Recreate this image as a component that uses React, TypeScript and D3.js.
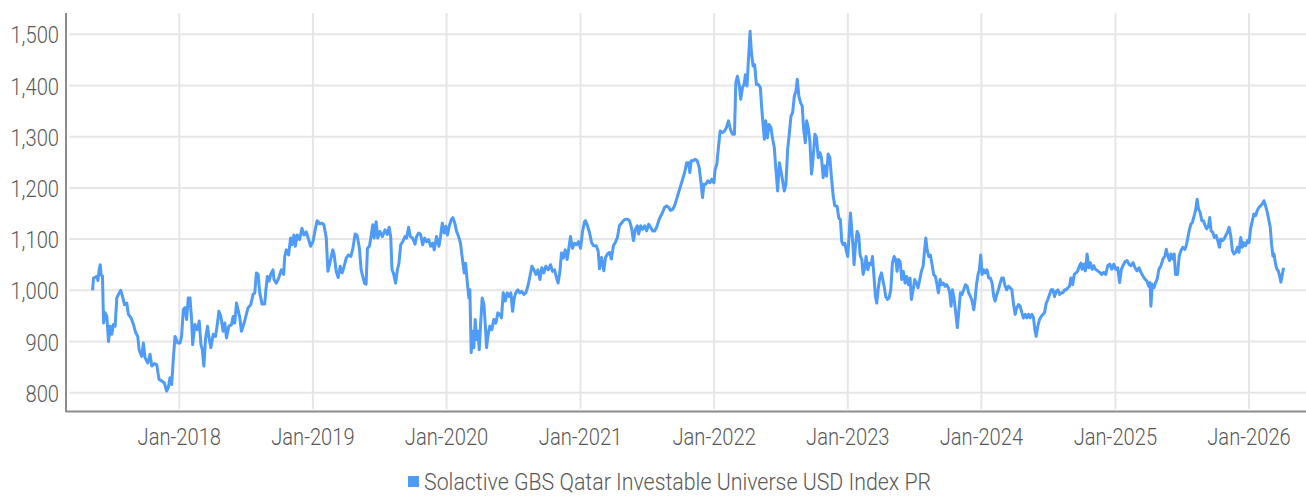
import React, {useEffect, useRef} from 'react';
import * as d3 from "d3";

const seriesName = "Solactive GBS Qatar Investable Universe USD Index PR";
const yTicks = [800, 900, 1000, 1100, 1200, 1300, 1400, 1500];
const xTickYears = [2018, 2019, 2020, 2021, 2022, 2023, 2024, 2025, 2026];

// dates as decimal years
const years = [
    2017.351, 2017.358, 2017.383, 2017.391, 2017.400, 2017.408, 2017.415, 2017.425, 2017.433, 2017.445,
    2017.458, 2017.470, 2017.483, 2017.495, 2017.507, 2017.520, 2017.532, 2017.545, 2017.562, 2017.575,
    2017.590, 2017.607, 2017.619, 2017.639, 2017.657, 2017.674, 2017.689, 2017.699, 2017.719, 2017.731,
    2017.744, 2017.764, 2017.781, 2017.794, 2017.813, 2017.831, 2017.848, 2017.868, 2017.888, 2017.905,
    2017.918, 2017.930, 2017.943, 2017.955, 2017.968, 2017.988, 2018.005, 2018.017, 2018.030, 2018.042,
    2018.055, 2018.067, 2018.080, 2018.092, 2018.100, 2018.117, 2018.134, 2018.149, 2018.162, 2018.172,
    2018.184, 2018.197, 2018.211, 2018.221, 2018.236, 2018.254, 2018.271, 2018.286, 2018.296, 2018.311,
    2018.328, 2018.341, 2018.353, 2018.371, 2018.391, 2018.403, 2018.415, 2018.428, 2018.440, 2018.453,
    2018.465, 2018.485, 2018.498, 2018.515, 2018.535, 2018.552, 2018.565, 2018.577, 2018.590, 2018.602,
    2018.619, 2018.639, 2018.647, 2018.659, 2018.672, 2018.684, 2018.701, 2018.709, 2018.726, 2018.744,
    2018.764, 2018.781, 2018.789, 2018.801, 2018.818, 2018.833, 2018.843, 2018.858, 2018.868, 2018.883,
    2018.900, 2018.918, 2018.933, 2018.950, 2018.968, 2018.983, 2019.000, 2019.017, 2019.032, 2019.050,
    2019.067, 2019.082, 2019.100, 2019.112, 2019.132, 2019.149,
    2019.159, 2019.174, 2019.189, 2019.204, 2019.219, 2019.234, 2019.249, 2019.266, 2019.284, 2019.299,
    2019.316, 2019.331, 2019.348, 2019.361, 2019.373, 2019.386, 2019.398, 2019.408, 2019.423, 2019.435,
    2019.448, 2019.458, 2019.473, 2019.485, 2019.502, 2019.520, 2019.540, 2019.557, 2019.570, 2019.582,
    2019.592, 2019.602, 2019.619, 2019.632, 2019.644, 2019.657, 2019.672, 2019.689, 2019.701, 2019.716,
    2019.729, 2019.746, 2019.764, 2019.776, 2019.791, 2019.806, 2019.821, 2019.836, 2019.851, 2019.866,
    2019.881, 2019.896, 2019.908, 2019.925, 2019.943, 2019.955, 2019.968, 2019.983, 2019.995, 2020.007,
    2020.020, 2020.035, 2020.047, 2020.062, 2020.075, 2020.090, 2020.104, 2020.119, 2020.132, 2020.142,
    2020.154, 2020.167, 2020.174, 2020.184, 2020.194, 2020.204, 2020.214, 2020.224, 2020.234, 2020.244,
    2020.254, 2020.266, 2020.279, 2020.289, 2020.299, 2020.308, 2020.323, 2020.338, 2020.353, 2020.368,
    2020.383, 2020.398, 2020.410, 2020.423, 2020.438, 2020.453, 2020.468, 2020.480, 2020.493, 2020.505,
    2020.517, 2020.532, 2020.547, 2020.562, 2020.577, 2020.592, 2020.607, 2020.622, 2020.637, 2020.652,
    2020.667, 2020.682, 2020.697, 2020.711, 2020.726, 2020.741, 2020.759, 2020.776, 2020.791, 2020.806,
    2020.821, 2020.833, 2020.846, 2020.858, 2020.871, 2020.886, 2020.900, 2020.915, 2020.925, 2020.940,
    2020.955, 2020.970, 2020.985, 2021.000, 2021.015, 2021.030,
    2021.037, 2021.052, 2021.067, 2021.082, 2021.097, 2021.117, 2021.132, 2021.142, 2021.157, 2021.174,
    2021.187, 2021.202, 2021.217, 2021.231, 2021.246, 2021.261, 2021.276, 2021.291, 2021.306, 2021.321,
    2021.336, 2021.351, 2021.366, 2021.381, 2021.396, 2021.410, 2021.425, 2021.435, 2021.450, 2021.465,
    2021.480, 2021.495, 2021.510, 2021.525, 2021.540, 2021.555, 2021.570, 2021.585, 2021.600, 2021.614,
    2021.629, 2021.644, 2021.659, 2021.674, 2021.689, 2021.704, 2021.719, 2021.734, 2021.749, 2021.764,
    2021.779, 2021.794, 2021.808, 2021.818, 2021.828, 2021.843, 2021.858, 2021.873, 2021.888, 2021.900,
    2021.913, 2021.923, 2021.938, 2021.953, 2021.968, 2021.983, 2021.998, 2022.007, 2022.020, 2022.032,
    2022.045, 2022.062, 2022.077, 2022.092, 2022.107, 2022.122, 2022.137, 2022.152, 2022.162, 2022.174,
    2022.187, 2022.199, 2022.212, 2022.224, 2022.234, 2022.246, 2022.256, 2022.269, 2022.279, 2022.291,
    2022.303, 2022.316, 2022.331, 2022.346, 2022.356, 2022.366, 2022.376, 2022.386, 2022.398, 2022.411,
    2022.425, 2022.438, 2022.450, 2022.463, 2022.475, 2022.488, 2022.500, 2022.512, 2022.525, 2022.537,
    2022.550, 2022.562, 2022.575, 2022.587, 2022.600, 2022.612, 2022.622, 2022.634, 2022.647, 2022.659,
    2022.669, 2022.682, 2022.692, 2022.704, 2022.716, 2022.729, 2022.741, 2022.754, 2022.766, 2022.779,
    2022.791, 2022.803, 2022.816, 2022.828, 2022.841, 2022.853, 2022.866, 2022.878, 2022.891, 2022.903,
    2022.920, 2022.933, 2022.945, 2022.955, 2022.965, 2022.978, 2022.990, 2023.000, 2023.010, 2023.020,
    2023.030, 2023.040, 2023.047, 2023.057, 2023.070, 2023.082, 2023.092, 2023.105, 2023.115, 2023.127,
    2023.137, 2023.150, 2023.162, 2023.175, 2023.185, 2023.197, 2023.207, 2023.217, 2023.227, 2023.239,
    2023.252, 2023.264, 2023.274, 2023.284, 2023.297, 2023.309, 2023.322, 2023.334, 2023.347, 2023.359,
    2023.369, 2023.379, 2023.392, 2023.404, 2023.416, 2023.429, 2023.441, 2023.454, 2023.466, 2023.476,
    2023.489, 2023.501, 2023.514, 2023.526, 2023.539, 2023.551, 2023.564, 2023.574, 2023.584, 2023.594,
    2023.606, 2023.618, 2023.631, 2023.643, 2023.656, 2023.668, 2023.678, 2023.691, 2023.703, 2023.716,
    2023.728, 2023.740, 2023.753, 2023.763, 2023.773, 2023.783, 2023.795, 2023.808, 2023.820, 2023.830,
    2023.843, 2023.855, 2023.868, 2023.880, 2023.893, 2023.905, 2023.918, 2023.930, 2023.943, 2023.953,
    2023.963, 2023.975, 2023.985, 2023.995, 2024.005, 2024.017, 2024.030, 2024.042, 2024.055, 2024.067,
    2024.080, 2024.092, 2024.102, 2024.115, 2024.127, 2024.140, 2024.152, 2024.164, 2024.177, 2024.189,
    2024.202, 2024.214, 2024.227, 2024.239, 2024.252, 2024.264, 2024.277, 2024.289, 2024.302, 2024.314,
    2024.327, 2024.339, 2024.352, 2024.364, 2024.377, 2024.389, 2024.399, 2024.409, 2024.421, 2024.434,
    2024.446, 2024.459, 2024.471, 2024.484, 2024.496, 2024.509, 2024.521, 2024.534, 2024.546, 2024.559,
    2024.571, 2024.584, 2024.596, 2024.609, 2024.621, 2024.633, 2024.646, 2024.658, 2024.668, 2024.681,
    2024.693, 2024.706, 2024.718, 2024.731, 2024.743,
    2024.751, 2024.764, 2024.776, 2024.789, 2024.801, 2024.813, 2024.826, 2024.838, 2024.851, 2024.868,
    2024.883, 2024.898, 2024.913, 2024.928, 2024.943, 2024.958, 2024.973, 2024.988, 2025.002, 2025.017,
    2025.032, 2025.045, 2025.057, 2025.072, 2025.087, 2025.102, 2025.117, 2025.132, 2025.147, 2025.162,
    2025.177, 2025.192, 2025.206, 2025.221, 2025.236, 2025.249, 2025.259, 2025.266, 2025.276, 2025.289,
    2025.301, 2025.313, 2025.326, 2025.341, 2025.356, 2025.371, 2025.381, 2025.393, 2025.405, 2025.415,
    2025.428, 2025.440, 2025.450, 2025.465, 2025.478, 2025.490, 2025.505, 2025.520, 2025.530, 2025.540,
    2025.552, 2025.565, 2025.577, 2025.590, 2025.600, 2025.612, 2025.622, 2025.634, 2025.647, 2025.659,
    2025.672, 2025.684, 2025.697, 2025.706, 2025.716, 2025.729, 2025.741, 2025.754, 2025.766, 2025.779,
    2025.789, 2025.801, 2025.813, 2025.826, 2025.838, 2025.851, 2025.863, 2025.876, 2025.888, 2025.900,
    2025.913, 2025.925, 2025.938, 2025.950, 2025.963, 2025.975, 2025.988, 2026.000, 2026.012, 2026.025,
    2026.037, 2026.050, 2026.062, 2026.075, 2026.087, 2026.100, 2026.112, 2026.124, 2026.137, 2026.147,
    2026.159, 2026.169, 2026.179, 2026.187, 2026.199, 2026.209, 2026.219, 2026.229, 2026.239, 2026.249,
    2026.259
];

// index level at each date above
const values = [
    1000, 1024, 1027, 1019, 1040, 1050, 1030, 1028, 936, 956,
    949, 900, 930, 914, 933, 930, 985, 992, 1000, 988,
    972, 975, 953, 946, 933, 917, 910, 884, 871, 897,
    868, 858, 875, 852, 857, 855, 826, 823, 819, 803,
    810, 829, 816, 865, 910, 897, 897, 910, 962, 966,
    943, 985, 985, 943, 894, 933, 923, 940, 894, 884,
    852, 907, 930, 910, 888, 914, 910, 936, 959, 949,
    920, 936, 907, 930, 933, 949, 936, 975, 962, 946,
    920, 936, 949, 966, 972, 992, 995, 1034, 1031, 995,
    973, 973, 998, 1027, 1018, 1031, 1040, 1021, 1014, 1024,
    1040, 1031, 1066, 1079, 1069, 1102, 1089, 1108, 1086, 1108,
    1099, 1121, 1108, 1114, 1099, 1086, 1095, 1118, 1136, 1130,
    1131, 1128, 1102, 1037, 1060, 1079,
    1069, 1037, 1025, 1047, 1034, 1047, 1063, 1069, 1066, 1082,
    1110, 1107, 1082, 1040, 1027, 1014, 1012, 1082, 1086, 1105,
    1128, 1102, 1134, 1102, 1115, 1105, 1118, 1109, 1123, 1105,
    1040, 1034, 1014, 1040, 1053, 1089, 1095, 1105, 1102, 1123,
    1105, 1102, 1090, 1105, 1112, 1109, 1089, 1102, 1095, 1099,
    1086, 1092, 1079, 1105, 1086, 1105, 1131, 1112, 1125, 1108,
    1125, 1138, 1142, 1131, 1115, 1105, 1092, 1060, 1034, 1053,
    1018, 985, 1001, 878, 920, 888, 943, 904, 920, 884,
    933, 985, 972, 933, 888, 910, 930, 923, 943, 936,
    956, 953, 946, 995, 979, 995, 988, 995, 959, 985,
    995, 1001, 995, 998, 992, 995, 1008, 1027, 1047, 1040,
    1031, 1040, 1021, 1044, 1034, 1047, 1040, 1050, 1037, 1040,
    1024, 1014, 1037, 1073, 1063, 1079, 1060, 1086, 1105, 1082,
    1092, 1089, 1095, 1082, 1115, 1134,
    1136, 1126, 1113, 1094, 1087, 1087, 1077, 1042, 1064, 1038,
    1064, 1071, 1074, 1061, 1087, 1094, 1103, 1126, 1131, 1136,
    1139, 1139, 1136, 1123, 1097, 1119, 1126, 1110, 1126, 1119,
    1126, 1116, 1129, 1123, 1116, 1116, 1123, 1136, 1145, 1152,
    1162, 1165, 1162, 1156, 1158, 1165, 1178, 1191, 1204, 1217,
    1230, 1249, 1249, 1230, 1253, 1253, 1256, 1253, 1240, 1214,
    1181, 1207, 1207, 1214, 1210, 1217, 1210, 1236, 1246, 1279,
    1311, 1308, 1311, 1318, 1331, 1314, 1305, 1305, 1405, 1418,
    1402, 1373, 1396, 1402, 1421, 1399, 1447, 1506, 1464, 1438,
    1441, 1402, 1402, 1396, 1356, 1324, 1295, 1331, 1298, 1324,
    1318, 1295, 1279, 1233, 1194, 1249, 1233, 1214, 1194, 1207,
    1275, 1305, 1340, 1347, 1379, 1389, 1412, 1379, 1366, 1360,
    1318, 1288, 1331, 1318, 1292, 1227, 1259, 1305, 1298, 1259,
    1269, 1259, 1220, 1243, 1223, 1266, 1259, 1220, 1184, 1165,
    1164, 1141, 1138, 1095, 1089, 1092, 1076, 1066, 1108, 1151,
    1118, 1082, 1050, 1086, 1115, 1108, 1069, 1060, 1031, 1044,
    1066, 1040, 1053, 1050, 1066, 1024, 988, 975, 1001, 1024,
    1034, 1018, 1005, 988, 982, 985, 1001, 1053, 1066, 1060,
    1037, 1060, 1056, 1021, 1037, 1014, 1027, 1011, 1024, 982,
    1001, 1021, 1014, 1005, 1021, 1037, 1047, 1076, 1102, 1079,
    1066, 1069, 1050, 1031, 1027, 1011, 995, 1021, 1011, 1014,
    1008, 1011, 1005, 995, 969, 1001, 985, 956, 927, 956,
    995, 992, 1001, 1011, 1008, 995, 988, 979, 962, 982,
    1011, 1031, 1040, 1069, 1031, 1040, 1034, 1040, 1024, 1024,
    1014, 988, 979, 992, 1001, 1014, 1024, 1024, 1008, 1001,
    1008, 1005, 1001, 975, 953, 966, 972, 969, 956, 946,
    953, 946, 953, 946, 953, 946, 923, 910, 930, 943,
    949, 953, 956, 975, 982, 992, 1001, 1001, 988, 998,
    1001, 992, 995, 995, 1001, 1001, 1005, 1008, 1024, 1011,
    1031, 1034, 1037, 1047, 1053,
    1041, 1051, 1038, 1071, 1044, 1054, 1041, 1048, 1041, 1038,
    1035, 1031, 1035, 1031, 1048, 1051, 1041, 1051, 1041, 1044,
    1015, 1041, 1048, 1056, 1058, 1051, 1048, 1054, 1044, 1038,
    1044, 1035, 1028, 1022, 1018, 1008, 1015, 969, 1012, 1005,
    1015, 1022, 1041, 1048, 1061, 1067, 1080, 1067, 1058, 1071,
    1061, 1071, 1031, 1031, 1067, 1077, 1084, 1080, 1087, 1100,
    1116, 1129, 1133, 1146, 1156, 1178, 1159, 1152, 1136, 1136,
    1126, 1120, 1126, 1142, 1116, 1113, 1103, 1107, 1097, 1084,
    1100, 1097, 1100, 1107, 1113, 1123, 1107, 1077, 1071, 1074,
    1084, 1074, 1103, 1084, 1093, 1087, 1097, 1093, 1120, 1136,
    1149, 1146, 1156, 1162, 1165, 1169, 1175, 1165, 1152, 1139,
    1123, 1090, 1067, 1071, 1051, 1041, 1038, 1028, 1016, 1031,
    1044
];

const FONT = 'Roboto, "Noto Sans", sans-serif';
const FONT_SIZE = 24;
const SQUEEZE = 0.84; // the reference face is a narrow one
const LEGEND_SQUEEZE = 0.89;
const TEXT = "#595959";
const GRID = "#e6e6e6";
const AXIS = "#8c8c8c";
const LINE = "#4e9bf9";

function yearToDate(yr: number): Date {
    const whole = Math.floor(yr);
    const start = Date.UTC(whole, 0, 1);
    const end = Date.UTC(whole + 1, 0, 1);
    return new Date(start + (yr - whole) * (end - start));
}

export default function App() {
    const ref = useRef<SVGSVGElement>(null);

    useEffect(() => {
        document.body.style.margin = "0";
        const svg = d3.select(ref.current);
        svg.selectAll("*").remove();

        const plot = {left: 67, right: 1306, top: 13, bottom: 411};

        const x = d3.scaleUtc()
            .domain([yearToDate(2018), yearToDate(2026)])
            .range([179.3, 1249]);
        const y = d3.scaleLinear()
            .domain([800, 1500])
            .range([392.7, 34.3]);

        // grid
        svg.append("g")
            .selectAll("line")
            .data(yTicks)
            .join("line")
            .attr("x1", plot.left + 2)
            .attr("x2", plot.right)
            .attr("y1", d => y(d))
            .attr("y2", d => y(d))
            .attr("stroke", GRID)
            .attr("stroke-width", 2);

        svg.append("g")
            .selectAll("line")
            .data(xTickYears)
            .join("line")
            .attr("x1", d => x(yearToDate(d)))
            .attr("x2", d => x(yearToDate(d)))
            .attr("y1", plot.top)
            .attr("y2", plot.bottom - 2)
            .attr("stroke", GRID)
            .attr("stroke-width", 2);

        // axis lines
        svg.append("line")
            .attr("x1", 66).attr("x2", 66)
            .attr("y1", plot.top).attr("y2", plot.bottom + 1)
            .attr("stroke", AXIS).attr("stroke-width", 2);
        svg.append("line")
            .attr("x1", 66).attr("x2", plot.right)
            .attr("y1", plot.bottom + 0.5).attr("y2", plot.bottom + 0.5)
            .attr("stroke", AXIS).attr("stroke-width", 2);

        const label = (sel: any) => sel
            .attr("font-family", FONT)
            .attr("font-size", FONT_SIZE)
            .attr("font-weight", 300)
            .attr("fill", TEXT);

        // tick labels
        const fmtY = d3.format(",");
        svg.append("g")
            .selectAll("text")
            .data(yTicks)
            .join("text")
            .attr("transform", d => `translate(59,${y(d) + 9}) scale(${SQUEEZE},1)`)
            .attr("text-anchor", "end")
            .call(label)
            .text(d => fmtY(d));

        const fmtX = d3.utcFormat("%b-%Y");
        svg.append("g")
            .selectAll("text")
            .data(xTickYears)
            .join("text")
            .attr("transform", d => `translate(${x(yearToDate(d))},445) scale(${SQUEEZE},1)`)
            .attr("text-anchor", "middle")
            .call(label)
            .text(d => fmtX(yearToDate(d)));

        // series line
        const dates = years.map(yearToDate);
        const line = d3.line<number>()
            .x((_, i) => x(dates[i]))
            .y(d => y(d));

        svg.append("path")
            .attr("d", line(values))
            .attr("fill", "none")
            .attr("stroke", LINE)
            .attr("stroke-width", 3)
            .attr("stroke-linejoin", "round");

        // legend
        svg.append("rect")
            .attr("x", 408).attr("y", 476)
            .attr("width", 11).attr("height", 11)
            .attr("fill", LINE);
        svg.append("text")
            .attr("transform", `translate(424,490) scale(${LEGEND_SQUEEZE},1)`)
            .call(label)
            .text(seriesName);
    }, []);

    return (
        <svg ref={ref} width={1306} height={496} style={{display: "block"}}></svg>
    );
}
